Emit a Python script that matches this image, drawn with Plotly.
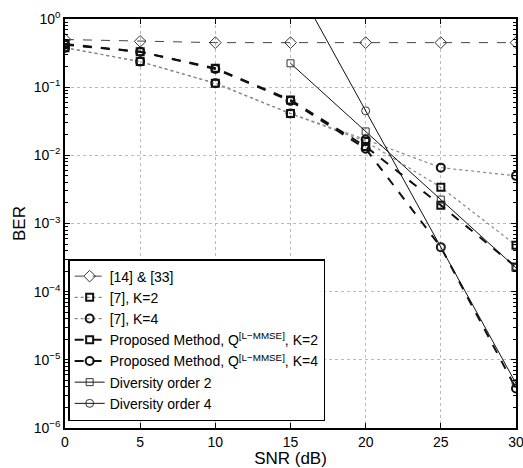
import plotly.graph_objects as go

snr = [0, 5, 10, 15, 20, 25, 30]
ber_ref14_33 = [0.50, 0.47, 0.45, 0.45, 0.45, 0.45, 0.45]
ber_ref7_k2 = [0.38, 0.237, 0.114, 0.041, 0.016, 3.4e-3, 4.8e-4]
ber_ref7_k4 = [0.38, 0.237, 0.114, 0.041, 0.017, 6.6e-3, 5.0e-3]
ber_prop_k2 = [0.43, 0.33, 0.19, 0.065, 0.0135, 1.85e-3, 2.3e-4]
ber_prop_k4 = [0.42, 0.33, 0.185, 0.063, 0.0125, 4.5e-4, 3.8e-6]
snr_div2 = [15, 20, 25, 30]
ber_div2 = [0.224, 0.0224, 2.24e-3, 2.24e-4]
snr_div4 = [15, 20, 25, 30]
ber_div4 = [4.5, 0.045, 4.5e-4, 4.5e-6]

xticks = [0, 5, 10, 15, 20, 25, 30]
yticks = [1e-6, 1e-5, 1e-4, 1e-3, 1e-2, 1e-1, 1]
ytext = ["10<sup>−6</sup>", "10<sup>−5</sup>", "10<sup>−4</sup>", "10<sup>−3</sup>",
         "10<sup>−2</sup>", "10<sup>−1</sup>", "10<sup>0</sup>"]

fig = go.Figure()
fig.add_trace(go.Scatter(x=snr, y=ber_ref14_33, name="[14] & [33]", mode="lines+markers",
                         line=dict(color="#444", width=1, dash="dash"),
                         marker=dict(symbol="diamond-open", size=9, color="#333", line=dict(width=1))))
fig.add_trace(go.Scatter(x=snr, y=ber_ref7_k2, name="[7], K=2", mode="lines+markers",
                         line=dict(color="#888", width=1.2, dash="dot"),
                         marker=dict(symbol="square-open", size=7, color="#111", line=dict(width=2))))
fig.add_trace(go.Scatter(x=snr, y=ber_ref7_k4, name="[7], K=4", mode="lines+markers",
                         line=dict(color="#888", width=1.2, dash="dot"),
                         marker=dict(symbol="circle-open", size=8, color="#111", line=dict(width=2))))
fig.add_trace(go.Scatter(x=snr, y=ber_prop_k2, name="Proposed Method, Q<sup>[L−MMSE]</sup>, K=2",
                         mode="lines+markers",
                         line=dict(color="#111", width=2, dash="dash"),
                         marker=dict(symbol="square-open", size=7, color="#111", line=dict(width=2))))
fig.add_trace(go.Scatter(x=snr, y=ber_prop_k4, name="Proposed Method, Q<sup>[L−MMSE]</sup>, K=4",
                         mode="lines+markers",
                         line=dict(color="#111", width=2, dash="dash"),
                         marker=dict(symbol="circle-open", size=8, color="#111", line=dict(width=2))))
fig.add_trace(go.Scatter(x=snr_div2, y=ber_div2, name="Diversity order 2", mode="lines+markers",
                         line=dict(color="#111", width=1),
                         marker=dict(symbol="square-open", size=7, color="#333", line=dict(width=1))))
fig.add_trace(go.Scatter(x=snr_div4, y=ber_div4, name="Diversity order 4", mode="lines+markers",
                         line=dict(color="#111", width=1),
                         marker=dict(symbol="circle-open", size=8, color="#333", line=dict(width=1))))

axis_common = dict(showline=True, linecolor="black", linewidth=1.5, mirror="ticks",
                   ticks="inside", ticklen=5, tickcolor="black",
                   showgrid=True, gridcolor="#bbb", griddash="dot", gridwidth=1,
                   zeroline=False, automargin=False, ticklabeloverflow="allow",
                   tickfont=dict(size=14, color="black"))

fig.update_xaxes(range=[0, 30], tickvals=xticks, ticktext=[str(t) for t in xticks],
                 title=dict(text="SNR (dB)", font=dict(size=17, color="black"), standoff=0),
                 **axis_common)
minor_vals = [m * 10 ** e for e in range(-6, 0) for m in range(2, 10)]
fig.update_yaxes(type="log", range=[-6, 0], tickvals=yticks, ticktext=ytext,
                 title=dict(text="BER", font=dict(size=17, color="black"), standoff=4),
                 minor=dict(ticks="inside", ticklen=3, tickcolor="black", tickvals=minor_vals, showgrid=False),
                 **axis_common)

fig.update_layout(
    width=523, height=468,
    margin=dict(l=65, r=7, t=19, b=40),
    paper_bgcolor="white", plot_bgcolor="white",
    font=dict(family="Liberation Sans, Arial, sans-serif", color="black"),
    legend=dict(x=0.007, y=0.017, xanchor="left", yanchor="bottom",
                bgcolor="white", bordercolor="black", borderwidth=1.5,
                font=dict(size=14, color="black"), itemwidth=30,
                tracegroupgap=0),
    showlegend=True,
)

fig.write_html("out.html")
